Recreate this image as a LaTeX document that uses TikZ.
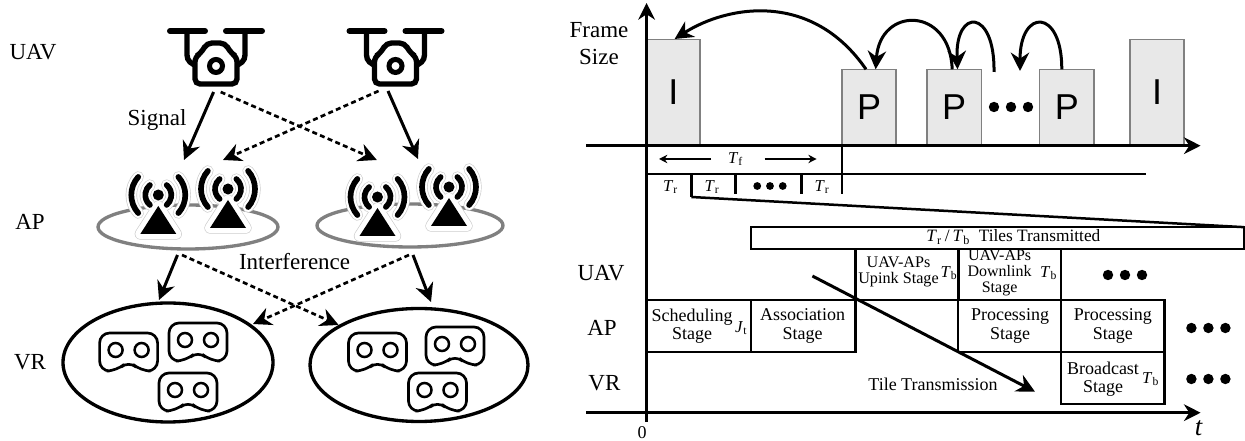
\documentclass[tikz,border=0pt]{standalone}
\usepackage{fontspec}
\setmainfont{Liberation Serif}
\newfontfamily\framefont{Liberation Sans}
\usetikzlibrary{arrows.meta, positioning, shapes.geometric, calc}
\definecolor{FrameGray}{RGB}{232, 232, 232}
\definecolor{EdgeGray}{RGB}{128, 128, 128}
\newcommand{\Tsub}[1]{{\textit{T}\textsubscript{#1}}}
\newcommand{\fs}[2]{\fontsize{#1}{#2}\selectfont}
\tikzset{
  pics/uavicon/.style={code={
    \draw[line width=3.6pt, line cap=round] (-46,-35) -- (-11,-35) (10,-35) -- (46,-35);
    \draw[line width=3.2pt, rounded corners=6] (-29,-35) -- (-29,-1) -- (-20,-1) (29,-35) -- (29,-1) -- (20,-1);
    \draw[line width=3.2pt, rounded corners=3, fill=white] (-21,18) -- (-21,-9) -- (-15,-13) -- (-9,-23) -- (9,-23) -- (15,-13) -- (21,-9) -- (21,18) -- cycle;
    \draw[line width=3pt] (0,0) circle (6.5);
  }},
  pics/apicon/.style={code={
    \foreach \wd/\col in {6.8pt/black!20, 6pt/white} {
      \draw[line width=\wd, color=\col, line cap=round] (-42:27) arc (-42:42:27) (138:27) arc (138:222:27) (-50:13) arc (-50:50:13) (130:13) arc (130:230:13);
      \draw[line width=\wd, color=\col, line join=round, fill=\col] (0,11) -- (18,39) -- (-18,39) -- cycle;
    }
    \draw[line width=3.4pt, line cap=round] (-42:27) arc (-42:42:27) (138:27) arc (138:222:27) (-50:13) arc (-50:50:13) (130:13) arc (130:230:13);
    \fill (0,0) circle (5.5) (0,11) -- (18,39) -- (-18,39) -- cycle;
  }},
  pics/vricon/.style={code={
    \draw[line width=1.6pt, rounded corners=6, fill=white] (-29,-19) -- (29,-19) -- (29,19) -- (12,19) -- (0,8.5) -- (-12,19) -- (-29,19) -- cycle;
    \draw[line width=1.5pt] (-13,-2) circle (7) (13,-2) circle (7);
  }},
  pics/threedots/.style={code={
    \foreach \k in {-1,0,1} \fill (\k*17,0) circle (5.2);
  }}
}
\begin{document}
\begin{tikzpicture}[x=0.6pt, y=-0.6pt, font=\fs{13.8}{16},
  sig/.style={-{Stealth[length=11pt, width=11pt]}, line width=1.8pt},
  itf/.style={sig, line width=1.6pt, dash pattern=on 3pt off 2pt},
  apring/.style={draw=EdgeGray, line width=2pt, ellipse, inner sep=0pt},
  vrring/.style={draw, line width=2pt, ellipse, inner sep=0pt},
  wh/.style 2 args={minimum width=#1*0.6pt, minimum height=#2*0.6pt, inner sep=0pt, outer sep=0pt},
  framebox/.style={draw=EdgeGray, fill=FrameGray, line width=0.8pt, font=\fs{21.6}{24}\framefont},
  stagebox/.style={draw, line width=1.5pt},
  stagetext/.style={font=\fs{10.8}{11}, align=center, inner sep=0pt},
  smalltext/.style={font=\fs{10}{11}, inner sep=0pt},
  ax/.style={-{Stealth[length=10pt, width=10pt]}, line width=1.8pt},
  tick/.style={line width=1.5pt}]
\useasboundingbox (0,0) rectangle (1245,441);
% left: network
\node (lu) at (33,52) {UAV};
\node (la) at (30,222) {AP};
\node (lv) at (30,362) {VR};
\pic at (216,66) {uavicon};
\pic at (395.5,66) {uavicon};
\node[apring, wh={180}{44}] (ap1) at (188,227) {};
\node[apring, wh={186}{43}] (ap2) at (410,225.5) {};
\pic at (158.3,195) {apicon};
\pic at (228,189) {apicon};
\pic at (377.5,197) {apicon};
\pic at (449,187) {apicon};
\node[vrring, wh={210}{119}] (vr1) at (168,362.5) {};
\node[vrring, wh={218}{113}] (vr2) at (419,365) {};
\pic at (128.6,352) {vricon};
\pic at (198,342) {vricon};
\pic at (188,392) {vricon};
\pic at (377.5,352) {vricon};
\pic at (455,346) {vricon};
\pic at (437.5,392) {vricon};
\node (signal) at (157,120) {Signal};
\node (interf) at (294.6,262) {Interference};
\coordinate (u1s) at (213.6,92); \coordinate (u1d) at (220.7,92); \coordinate (u2d) at (378.6,91); \coordinate (u2s) at (388,91);
\coordinate (a1s) at (184,160); \coordinate (a1d) at (223,160); \coordinate (a2d) at (376.8,160); \coordinate (a2s) at (418,159);
\draw[sig] (u1s) -- (a1s); \draw[itf] (u1d) -- (a2d); \draw[itf] (u2d) -- (a1d); \draw[sig] (u2s) -- (a2s);
\coordinate (b1s) at (177.5,255); \coordinate (b1d) at (182,255); \coordinate (b2d) at (409,255); \coordinate (b2s) at (413,255);
\coordinate (v1s) at (159,300); \coordinate (v1d) at (253,324); \coordinate (v2d) at (338.6,325); \coordinate (v2s) at (431,302);
\draw[sig] (b1s) -- (v1s); \draw[itf] (b1d) -- (v2d); \draw[itf] (b2d) -- (v1d); \draw[sig] (b2s) -- (v2s);
% right: frames
\node[framebox, wh={53.4}{106.4}] (i1) at (673.3,92.5) {I};
\node[framebox, wh={54}{76.4}] (p1) at (869,107.5) {P};
\node[framebox, wh={54.5}{76.4}] (p2) at (954.2,107.5) {P};
\node[framebox, wh={54.3}{76.4}] (p3) at (1066.8,107.5) {P};
\node[framebox, wh={53.9}{106.4}] (i2) at (1157,92.5) {\raisebox{-2pt}{I}};
\coordinate (ytop) at (646.6,3); \coordinate (ybot) at (646.6,421.7);
\coordinate (xa) at (586,145.7); \coordinate (xb) at (1200.6,145.7); \coordinate (ta) at (586,412.7); \coordinate (tb) at (1200.6,412.7);
\draw[ax] (ybot) -- (ytop); \draw[ax] (xa) -- (xb); \draw[ax] (ta) -- (tb);
\node[align=center, inner sep=0pt] (fsize) at (599,43.5) {Frame\\Size};
\pic at (1011,107) {threedots};
\coordinate (ifront) at (674.6,39);
\draw[sig] ([xshift=-1.8pt]p1.north) .. controls (812,-9) and (728,5) .. (ifront);
\draw[sig] ([xshift=-1.2pt]p2.north) .. controls (950,6) and (880,6) .. ([xshift=4pt]p1.north);
\coordinate (gap) at (994,72); \coordinate (gapb) at (1020,71);
\draw[sig] (gap) .. controls (995,8) and (955,8) .. ([xshift=2pt]p2.north);
\draw[sig] ([xshift=-3pt]p3.north) .. controls (1062,8) and (1020,8) .. (gapb);
% right: time slots
\coordinate (ft) at (842,145.7); \coordinate (fb) at (842,194); \coordinate (rl) at (646.6,174); \coordinate (rr) at (1145.6,174);
\draw[tick] (ft) -- (fb); \draw[tick] (rl) -- (rr);
\draw[tick] (691.4,174) -- (691.4,197); \draw[tick] (735.7,174) -- (735.7,194); \draw[tick] (801.6,174) -- (801.6,194);
\node[smalltext] (tf) at (735.7,159) {\Tsub{f}};
\coordinate (tfl) at (711,159); \coordinate (tfla) at (659,159); \coordinate (tfr) at (764.6,159); \coordinate (tfra) at (816.7,159);
\draw[-{Stealth[length=5pt, width=5pt]}, line width=1.2pt] (tfl) -- (tfla);
\draw[-{Stealth[length=5pt, width=5pt]}, line width=1.2pt] (tfr) -- (tfra);
\node[smalltext] (tr1) at (670.7,187) {\Tsub{r}};
\node[smalltext] (tr2) at (712,187) {\Tsub{r}};
\node[smalltext] (tr3) at (822,187) {\Tsub{r}};
\pic[scale=0.75] at (770,186) {threedots};
\node[stagebox, wh={493}{21.7}] (tiles) at (997.4,238) {};
\node[stagetext, font=\fs{10.4}{11}] (tilest) at (1013.4,237) {\Tsub{r}\,/\,\Tsub{b}\ \ Tiles Transmitted};
\coordinate (sl) at (691.4,197);
\draw[tick] (sl) -- (tiles.north east);
\node (ru) at (601,273) {UAV};
\node (ra) at (602,328) {AP};
\node (rv) at (604.4,383) {VR};
\node[stagebox, wh={104.2}{52}] (sch) at (698.7,326) {};
\node[stagebox, wh={104.6}{52}] (asc) at (803.1,326) {};
\node[stagebox, wh={103}{51}] (up) at (906.8,274.5) {};
\node[stagebox, wh={103}{51}] (dn) at (1009.7,274.5) {};
\node[stagebox, wh={103}{52}] (pr1) at (1009.7,326) {};
\node[stagebox, wh={103.3}{52}] (pr2) at (1112.8,326) {};
\node[stagebox, wh={103.3}{52}] (bc) at (1112.8,378) {};
\node[stagetext] (scht) at (692,326) {Scheduling\\Stage};
\node[stagetext] (asct) at (802.5,326) {Association\\Stage};
\node[stagetext, font=\fs{9.7}{10}] (upt) at (898.5,272) {UAV-APs\\Upink Stage};
\node[stagetext, font=\fs{9.6}{9.6}] (dnt) at (999.6,273) {UAV-APs\\Downlink\\Stage};
\node[stagetext] (pr1t) at (1010,326) {Processing\\Stage};
\node[stagetext] (pr2t) at (1112.8,326) {Processing\\Stage};
\node[stagetext] (bct) at (1103,379) {Broadcast\\Stage};
\node[smalltext] (jt) at (741.3,328) {\textit{J}\textsubscript{t}};
\node[smalltext] (tbu) at (949,273) {\Tsub{b}};
\node[smalltext] (tbd) at (1048.7,273) {\Tsub{b}};
\node[smalltext] (tbb) at (1150.7,379) {\Tsub{b}};
\pic at (1125,275) {threedots};
\pic at (1208.4,328) {threedots};
\pic at (1208.4,379) {threedots};
\coordinate (ts) at (812.4,276); \coordinate (te) at (1035,391.7);
\draw[sig] (ts) -- (te);
\node[stagetext] (tlt) at (933,384) {Tile Transmission};
\node[stagetext] (zero) at (642,433) {0};
\node[font=\fs{16}{18}\itshape, inner sep=0pt] (tlab) at (1198.5,428) {t};
\end{tikzpicture}
\end{document}
